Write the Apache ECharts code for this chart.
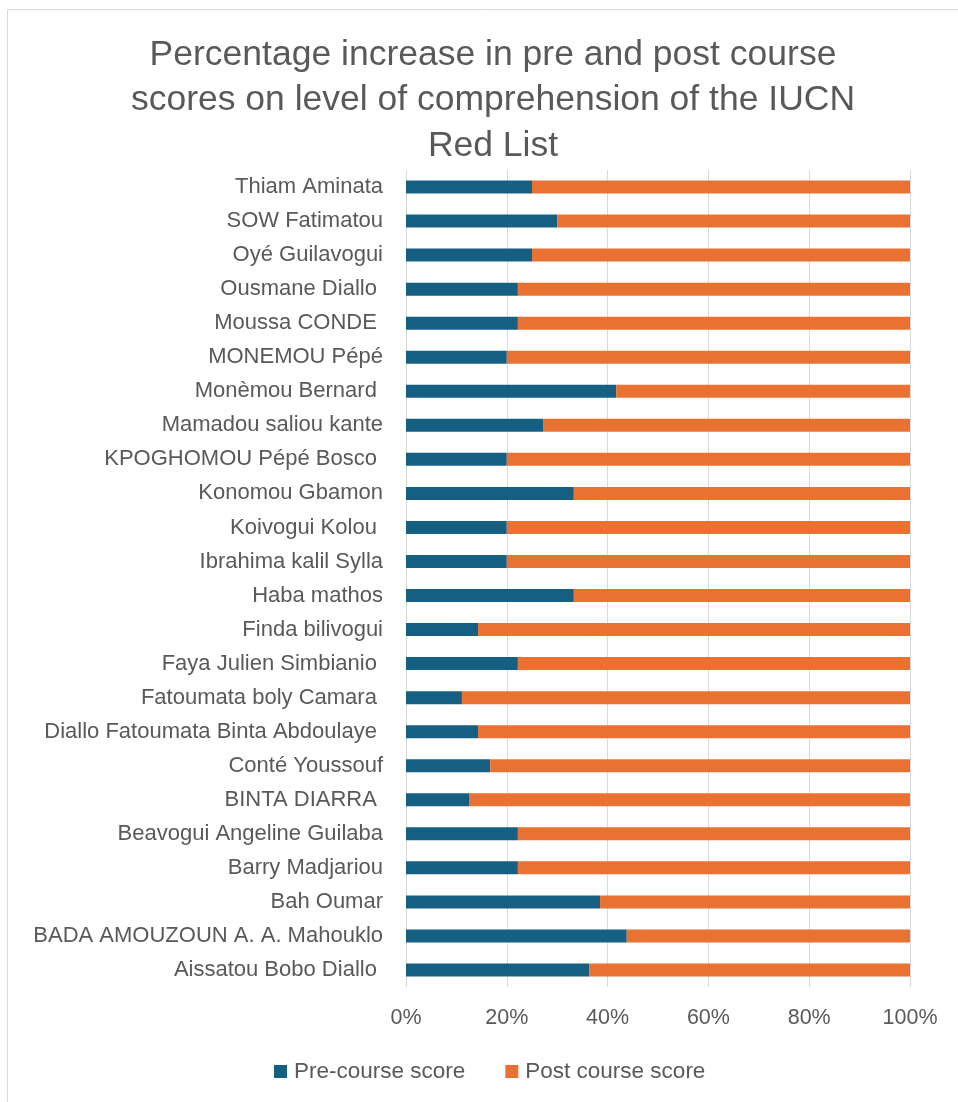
<!DOCTYPE html>
<html>
<head>
<meta charset="utf-8">
<script src="https://cdn.jsdelivr.net/npm/echarts@6/dist/echarts.min.js"></script>
<style>html,body{margin:0;padding:0;background:#fff}#c{width:958px;height:1102px}</style>
</head>
<body>
<div id="c"></div>
<script>
// Categories listed bottom to top (as in the picture)
const categories = [
  "Aissatou Bobo Diallo ",
  "BADA AMOUZOUN A. A. Mahouklo",
  "Bah Oumar",
  "Barry Madjariou",
  "Beavogui Angeline Guilaba",
  "BINTA DIARRA ",
  "Conté Youssouf",
  "Diallo Fatoumata Binta Abdoulaye ",
  "Fatoumata boly Camara ",
  "Faya Julien Simbianio ",
  "Finda bilivogui",
  "Haba mathos",
  "Ibrahima kalil Sylla",
  "Koivogui Kolou ",
  "Konomou Gbamon",
  "KPOGHOMOU Pépé Bosco ",
  "Mamadou saliou kante",
  "Monèmou Bernard ",
  "MONEMOU Pépé",
  "Moussa CONDE ",
  "Ousmane Diallo ",
  "Oyé Guilavogui",
  "SOW Fatimatou",
  "Thiam Aminata"
];
const preCourse = [36.4, 43.8, 38.5, 22.2, 22.2, 12.5, 16.7, 14.3, 11.1, 22.2, 14.3, 33.3, 20, 20, 33.3, 20, 27.3, 41.7, 20, 22.2, 22.2, 25, 30, 25];
const postCourse = [63.6, 56.2, 61.5, 77.8, 77.8, 87.5, 83.3, 85.7, 88.9, 77.8, 85.7, 66.7, 80, 80, 66.7, 80, 72.7, 58.3, 80, 77.8, 77.8, 75, 70, 75];
const xTicks = [0, 20, 40, 60, 80, 100];
const titleText = "Percentage increase in pre and post course\nscores on level of comprehension of the IUCN\nRed List";
const seriesNames = ["Pre-course score", "Post course score"];

const FONT = "Liberation Sans";
const chart = echarts.init(document.getElementById('c'), null, {renderer: 'canvas'});
chart.setOption({
  backgroundColor: '#fff',
  animation: false,
  graphic: [{
    type: 'rect', left: 5, top: 7,
    shape: {width: 960, height: 1100},
    style: {fill: 'none', stroke: '#d9d9d9', lineWidth: 1}
  }],
  title: {
    text: titleText,
    left: 488, top: 27, textAlign: 'center',
    textStyle: {fontFamily: FONT, fontSize: 35.5, fontWeight: 'normal', color: '#595959', lineHeight: 45.5}
  },
  legend: {
    data: seriesNames,
    left: 274, top: 1060, padding: 0,
    itemWidth: 13, itemHeight: 13, itemGap: 40,
    icon: 'rect',
    textStyle: {fontFamily: FONT, fontSize: 22.5, color: '#595959', padding: [0, 0, 0, 2]}
  },
  grid: {left: 406, right: 48, top: 170, bottom: 115, containLabel: false},
  xAxis: {
    type: 'value', min: 0, max: 100, interval: 20,
    axisLine: {show: false}, axisTick: {show: false},
    axisLabel: {fontFamily: FONT, fontSize: 21.5, color: '#595959', margin: 20,
      formatter: v => xTicks.includes(v) ? v + '%' : ''},
    splitLine: {show: true, lineStyle: {color: '#d9d9d9', width: 1}}
  },
  yAxis: {
    type: 'category', data: categories,
    axisLine: {show: false}, axisTick: {show: false},
    axisLabel: {fontFamily: FONT, fontSize: 22, color: '#595959', margin: 23}
  },
  series: [
    {name: seriesNames[0], type: 'bar', stack: 'total', data: preCourse, barWidth: 13,
      itemStyle: {color: '#156082'}},
    {name: seriesNames[1], type: 'bar', stack: 'total', data: postCourse, barWidth: 13,
      itemStyle: {color: '#E97132'}}
  ]
});
</script>
</body>
</html>
